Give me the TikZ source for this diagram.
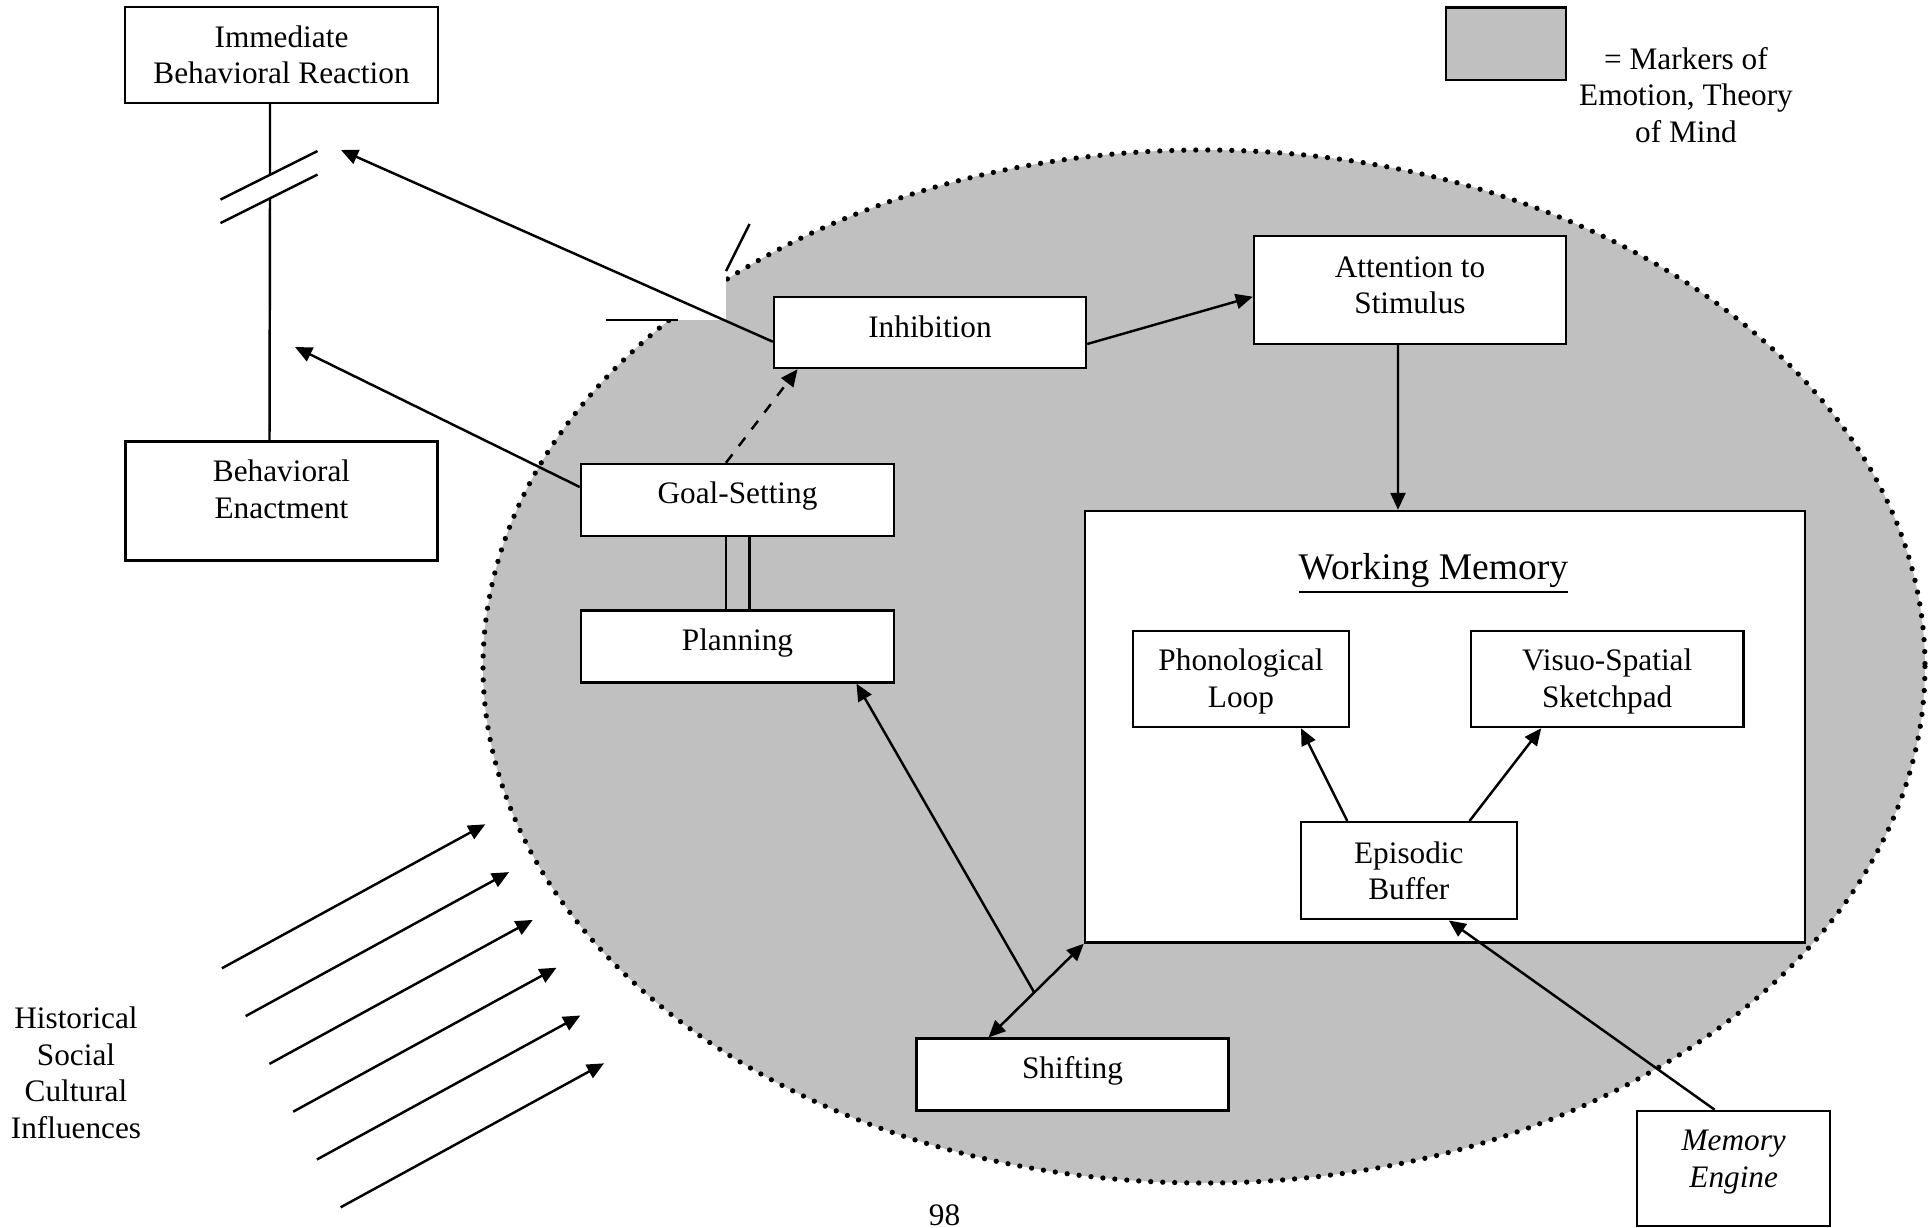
\documentclass[tikz,border=0pt]{standalone}
\usepackage{fontspec}
\setmainfont{Liberation Serif}
\usetikzlibrary{arrows.meta,positioning}
\definecolor{markgray}{RGB}{192,192,192}

\begin{document}
\begin{tikzpicture}[x=0.1mm, y=-0.1mm, % one unit = one pixel of the page, y counted downwards
					line width=0.7pt,
					every node/.style={
						align=center,  		% so that "\\" breaks the line
						font=\fontsize{8.9}{10.4}\selectfont
						},
					box/.style={draw, fill=white, inner sep=0pt},
					every edge/.style={draw, line width=0.7pt},
					>={Triangle[length=1.7mm, width=1.5mm]},
					dots/.style={line width=1.5pt, line cap=round, dash pattern=on 0pt off 1.2mm}
					]
\useasboundingbox (0,0) rectangle (1931,1228);
\fill[white] (0,0) rectangle (1931,1228);

% the grey field, with its corner cut away
\begin{scope}
\clip (726,0) -- (1931,0) -- (1931,1228) -- (0,1228) -- (0,320) -- (726,320) -- cycle;
\fill[markgray] (1204,666.5) ellipse [x radius=721, y radius=516.5];
\draw[dots] (1204,666.5) ellipse [x radius=721, y radius=516.5];
\end{scope}
\draw (606,320) -- (678,320);
\draw (726,271) -- (749.6,224);

\node[box, minimum width=31.3mm, minimum height=9.6mm](ibr) at (281.5,55) {Immediate\\Behavioral Reaction};
\node[box, minimum width=31.2mm, minimum height=11.9mm, text depth=2.4mm](enact)[below=33.6mm of ibr] {Behavioral\\Enactment};
\node[box, minimum width=31.2mm, minimum height=7.1mm, text depth=1.2mm](inhib) at (930,332.5) {Inhibition};
\node[box, minimum width=31.2mm, minimum height=10.8mm, text depth=1mm](attn) at (1410,290) {Attention to\\Stimulus};
\node[box, minimum width=31.3mm, minimum height=7.2mm, text depth=1.45mm](goal) at (737.5,500) {Goal-Setting};
\node[box, minimum width=31.3mm, minimum height=7.2mm, text depth=1.45mm](plan)[below=7.2mm of goal] {Planning};
\node[box, minimum width=72mm, minimum height=43.15mm](wm) at (1445,726.75) {};
\node[anchor=base, font=\fontsize{10.7}{12}\selectfont](wmtitle) at (1433.5,579) {\underline{Working Memory}};
\node[box, minimum width=21.6mm, minimum height=9.6mm, text depth=0.2mm](phon) at (1241,679) {Phonological\\Loop};
\node[box, minimum width=27.25mm, minimum height=9.6mm, text depth=0.2mm](visuo)[right=11.95mm of phon] {Visuo-Spatial\\Sketchpad};
\node[box, minimum width=21.6mm, minimum height=9.7mm](epis) at (1408.8,870.7) {Episodic\\Buffer};
\node[box, minimum width=31.2mm, minimum height=7.2mm, text depth=1.45mm](shift) at (1072.5,1074.7) {Shifting};
\node[box, minimum width=19.3mm, minimum height=11.5mm, text depth=2mm](engine) at (1733.7,1168.5) {\textit{Memory}\\\textit{Engine}};

% legend
\node[box, fill=markgray, minimum width=12mm, minimum height=7.27mm](legend) at (1505.9,43.7) {};
\node(legendtext) at (1686,95) {= Markers of\\Emotion, Theory\\of Mind};

\node(hsci) at (76,1073) {Historical\\Social\\Cultural\\Influences};
\node[anchor=base](pagenum) at (944.5,1225) {98};

% broken line between the two behaviour boxes
\coordinate (brkA) at (270,175);
\coordinate (brkB) at (270,198.5);
\draw ([xshift=-1.15mm]ibr.south) -- (brkA);
\draw (brkB) -- ([xshift=-1.2mm]enact.north);
\draw (brkA) ++(-49.5,24.5) -- ++(97,-48.5);
\draw (brkB) ++(-49.5,24.5) -- ++(97,-48.5);

\coordinate (reacttip) at (341,150);
\coordinate (enacttip) at (295,347);
\path[->]
([yshift=-0.92mm]inhib.west) edge [] (reacttip)
([yshift=1.3mm]goal.west) edge [] (enacttip)
([xshift=-1.15mm]goal.north) edge [dashed] ([xshift=-13.25mm]inhib.south)
([yshift=-1.15mm]inhib.east) edge [] ([yshift=-0.67mm]attn.west)
([xshift=-1.2mm]attn.south) edge [] ([xshift=-4.7mm]wm.north)
([xshift=4.77mm]epis.north west) edge [] ([xshift=6mm]phon.south)
([xshift=-4.85mm]epis.north east) edge [] ([xshift=-6.6mm]visuo.south)
([xshift=-1.9mm]engine.north) edge [] ([xshift=4mm]epis.south)
;
\draw ([xshift=-1.15mm]goal.south) -- ([xshift=-1.15mm]plan.north);
\draw ([xshift=1.2mm]goal.south) -- ([xshift=1.2mm]plan.north);
\draw[<->] ([xshift=-8.4mm]shift.north) -- coordinate[pos=0.48] (junct) (wm.south west);
\draw[->] (junct) -- ([xshift=11.9mm]plan.south);

% influences coming in from outside
\foreach \i in {0,...,5}
	\draw[->] (221.9+23.75*\i, 968.3+47.8*\i) -- ++(263.4,-144);
\end{tikzpicture}
\end{document}
